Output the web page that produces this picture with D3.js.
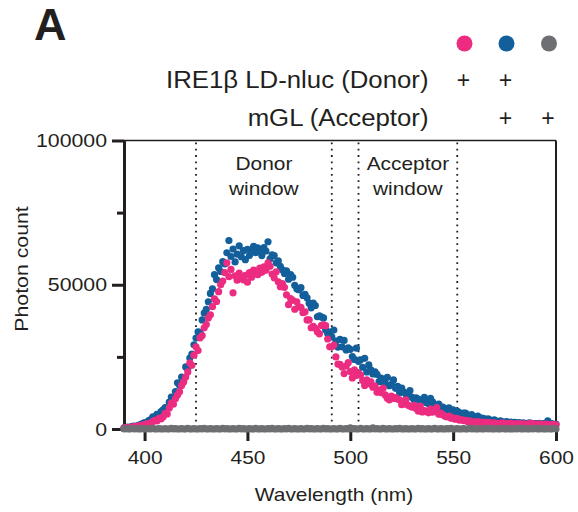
<!DOCTYPE html>
<html>
<head>
<meta charset="utf-8">
<script src="https://cdn.jsdelivr.net/npm/d3@7/dist/d3.min.js"></script>
<style>
  html, body { margin: 0; padding: 0; background: #fff; }
  svg { display: block; font-family: "Liberation Sans", Arial, Helvetica, sans-serif; }
</style>
</head>
<body>
<svg id="chart" width="578" height="512"></svg>
<script>
// Emission spectra, 1 nm steps from 390 to 600 nm
const wavelengthStart = 390;
const wavelengthEnd = 600;

// IRE1β LD-nluc + mGL (donor + acceptor)
const donorAcceptor = [
  400, 600, 700, 500, 900, 1000, 800, 1300, 1500, 1900,
  2200, 2000, 2900, 3300, 4200, 4000, 5100, 4800, 6000, 6600,
  7400, 7100, 9300, 11100, 10600, 13000, 16000, 15200, 18000, 17500,
  21500, 20800, 24600, 26000, 29200, 31500, 33700, 33500, 37800, 40200,
  41500, 44100, 47000, 48600, 53500, 51800, 55900, 54600, 58000, 57200,
  61100, 65300, 59800, 62400, 57900, 60600, 63500, 59700, 61800, 58700,
  62300, 60200, 62100, 63300, 61100, 62800, 61500, 60100, 62900, 61700,
  64900, 59000, 60400, 60100, 57600, 58300, 56400, 55200, 53900, 54800,
  51900, 53500, 52600, 49800, 48600, 48300, 49000, 46300, 46700, 45500,
  43600, 42000, 43600, 42800, 38900, 39200, 38800, 38500, 34400, 33100,
  33600, 31900, 34300, 30500, 28400, 31100, 28500, 30700, 27400, 28100,
  27600, 25100, 24100, 28000, 23500, 24000, 21400, 24500, 19800, 22200,
  20500, 19100, 19800, 18900, 16400, 17600, 16400, 15800, 17900, 15000,
  15500, 17000, 14100, 14800, 12600, 14200, 12800, 12100, 11700, 13300,
  11000, 10100, 10800, 10400, 9600, 10100, 11000, 9100, 8800, 10600,
  9400, 8300, 8000, 8600, 7300, 7600, 7000, 6800, 7300, 6300,
  6600, 5900, 6200, 5700, 5200, 5500, 5500, 4900, 4600, 5000,
  4300, 4100, 4500, 3800, 3800, 3600, 3300, 3500, 3100, 2900,
  3200, 2700, 2400, 2800, 2500, 2300, 2600, 2200, 2400, 2100,
  2300, 2000, 2200, 1900, 2100, 2000, 1800, 2100, 2000, 1700,
  1900, 1800, 2000, 1600, 1900, 1800, 2800, 1700, 1900, 1500,
  1700
];

// IRE1β LD-nluc alone (donor only)
const donorOnly = [
  300, 500, 400, 600, 700, 800, 900, 1000, 1200, 1100,
  1600, 1800, 1700, 2100, 2600, 3000, 2800, 3700, 3500, 4200,
  5400, 5200, 7300, 9000, 8600, 10500, 11800, 12900, 15100, 16300,
  18000, 19800, 22900, 22100, 25600, 28500, 27200, 31600, 32400, 35100,
  36200, 38500, 39600, 42400, 45100, 44200, 47600, 50000, 51300, 54200,
  57600, 52800, 55300, 47200, 53100, 51600, 54000, 52200, 51700, 53300,
  50900, 54200, 52600, 55100, 53900, 53500, 55800, 54300, 56200, 55000,
  57600, 56400, 53700, 52400, 54500, 51000, 49300, 50400, 49100, 46500,
  43100, 45200, 44600, 41500, 44100, 42300, 42200, 40300, 40600, 37800,
  37800, 35100, 35600, 34900, 33700, 33000, 35900, 36100, 35800, 31200,
  28500, 28500, 29100, 25000, 22500, 22400, 21500, 19200, 21800, 23000,
  19900, 17700, 20500, 18600, 19400, 18700, 16800, 15100, 17000, 15700,
  16300, 14500, 14900, 12700, 13500, 12600, 14200, 11800, 10700, 10100,
  11400, 10600, 10900, 10400, 10100, 8400, 8700, 10100, 8300, 7900,
  7600, 8200, 7100, 6200, 7900, 5900, 6400, 6100, 5600, 6900,
  5800, 6200, 7400, 5100, 5500, 4900, 4400, 4200, 4500, 3700,
  3900, 3400, 3600, 3100, 3300, 2900, 3000, 2600, 2800, 2400,
  2500, 2300, 2600, 2200, 2400, 2100, 2300, 2000, 2200, 1900,
  2100, 2000, 1800, 2000, 2100, 1700, 1900, 1800, 2000, 1600,
  1800, 1700, 1900, 1600, 1800, 1700, 1500, 1900, 2000, 1600,
  1700, 1500, 1800, 1600, 1400, 1700, 1500, 1300, 1600, 1400,
  1400
];

// mGL alone (acceptor only)
const acceptorOnly = [
  0, 100, 0, 0, 200, 0, 100, 0, 0, 100,
  0, 0, 100, 0, 200, 0, 0, 100, 0, 0,
  100, 0, 0, 200, 0, 100, 0, 0, 100, 0,
  0, 200, 0, 0, 100, 0, 0, 100, 0, 200,
  0, 0, 100, 0, 0, 100, 0, 0, 200, 0,
  100, 0, 0, 100, 0, 0, 200, 0, 100, 0,
  0, 100, 0, 0, 200, 0, 0, 100, 0, 0,
  100, 0, 200, 0, 0, 100, 0, 0, 100, 0,
  200, 0, 0, 100, 0, 0, 100, 0, 0, 200,
  0, 100, 0, 0, 100, 0, 0, 200, 0, 100,
  0, 0, 100, 0, 0, 200, 0, 0, 100, 0,
  400, 0, 100, 0, 0, 200, 0, 0, 100, 0,
  0, 400, 0, 100, 0, 0, 200, 0, 0, 100,
  0, 0, 100, 0, 200, 0, 0, 100, 0, 0,
  100, 0, 0, 200, 0, 100, 0, 0, 100, 0,
  0, 200, 0, 0, 100, 0, 0, 100, 0, 200,
  0, 0, 100, 0, 0, 100, 0, 0, 200, 0,
  100, 0, 0, 100, 0, 0, 200, 0, 100, 0,
  0, 100, 0, 0, 200, 0, 0, 100, 0, 0,
  100, 0, 200, 0, 0, 100, 0, 0, 100, 0,
  200, 0, 0, 100, 0, 0, 100, 0, 0, 200,
  0
];

const xTicks = [400, 450, 500, 550, 600];
const yMajorTicks = [0, 50000, 100000];
const yMinorTicks = [25000, 75000];
// Integration windows (nm)
const windowEdges = [425, 491, 504, 552];
const windowLabels = [
  { lines: ["Donor", "window"], from: 425, to: 491 },
  { lines: ["Acceptor", "window"], from: 504, to: 552 }
];

const seriesColors = { donorAcceptor: "#135f9b", donorOnly: "#ec2c80", acceptorOnly: "#6e6f72" };
const ink = "#231f20";
const fontFamily = '"Liberation Sans", Arial, Helvetica, sans-serif';

const wavelengths = d3.range(wavelengthStart, wavelengthEnd + 1);

const svg = d3.select("#chart");
const plot = { left: 124, right: 556, top: 140.5, bottom: 429 };

const x = d3.scaleLinear().domain([390, 600]).range([plot.left, plot.right]);
const y = d3.scaleLinear().domain([0, 100000]).range([plot.bottom, plot.top]);

// widen glyphs slightly, matching the wide Helvetica-style lettering
function widen(sel, k) {
  sel.each(function () {
    const w = this.getComputedTextLength();
    d3.select(this).attr("textLength", w * k).attr("lengthAdjust", "spacingAndGlyphs");
  });
}

// Frame: top and right edges
svg.append("line")
  .attr("x1", plot.left).attr("x2", plot.right)
  .attr("y1", plot.top).attr("y2", plot.top)
  .attr("stroke", ink).attr("stroke-width", 1.5);
svg.append("line")
  .attr("x1", plot.right).attr("x2", plot.right)
  .attr("y1", plot.top).attr("y2", plot.bottom)
  .attr("stroke", ink).attr("stroke-width", 2);

// Dotted window boundaries
svg.append("g").selectAll("line")
  .data(windowEdges)
  .join("line")
  .attr("x1", d => x(d)).attr("x2", d => x(d))
  .attr("y1", plot.top + 2).attr("y2", plot.bottom)
  .attr("stroke", ink)
  .attr("stroke-width", 1.8)
  .attr("stroke-dasharray", "1.8 4.5");

// Window labels
windowLabels.forEach(wl => {
  const cx = (x(wl.from) + x(wl.to)) / 2;
  wl.lines.forEach((t, i) => {
    svg.append("text")
      .attr("x", cx).attr("y", 170 + i * 25)
      .attr("text-anchor", "middle")
      .attr("font-size", 19)
      .attr("fill", ink)
      .text(t)
      .call(widen, 1.1);
  });
});

// Axes
const xAxis = svg.append("g")
  .attr("transform", `translate(0,${plot.bottom})`)
  .call(d3.axisBottom(x).tickValues(xTicks).tickSize(12).tickSizeOuter(0).tickPadding(10).tickFormat(d3.format("d")));
xAxis.select(".domain").attr("stroke", ink).attr("stroke-width", 2.5);
xAxis.selectAll(".tick line").attr("stroke", ink).attr("stroke-width", 3);
xAxis.selectAll(".tick text").attr("font-size", 19).attr("font-family", fontFamily).attr("fill", ink).call(widen, 1.1);

const yAxis = svg.append("g")
  .attr("transform", `translate(${plot.left},0)`)
  .call(d3.axisLeft(y).tickValues(yMajorTicks).tickSize(12).tickSizeOuter(0).tickPadding(5).tickFormat(d3.format("d")));
yAxis.select(".domain").attr("stroke", ink).attr("stroke-width", 3);
yAxis.selectAll(".tick line").attr("stroke", ink).attr("stroke-width", 3);
yAxis.selectAll(".tick text").attr("font-size", 19).attr("font-family", fontFamily).attr("fill", ink).call(widen, 1.12);

const yMinor = svg.append("g")
  .attr("transform", `translate(${plot.left},0)`)
  .call(d3.axisLeft(y).tickValues(yMinorTicks).tickSize(7).tickSizeOuter(0).tickFormat(""));
yMinor.select(".domain").remove();
yMinor.selectAll(".tick line").attr("stroke", ink).attr("stroke-width", 3);

// Axis titles
svg.append("text")
  .attr("transform", `translate(28,269) rotate(-90)`)
  .attr("text-anchor", "middle")
  .attr("font-size", 19)
  .attr("fill", ink)
  .text("Photon count")
  .call(widen, 1.12);

svg.append("text")
  .attr("x", 334).attr("y", 501)
  .attr("text-anchor", "middle")
  .attr("font-size", 19)
  .attr("fill", ink)
  .text("Wavelength (nm)")
  .call(widen, 1.1);

// Spectra as dots
const series = [
  { key: "donorAcceptor", values: donorAcceptor },
  { key: "donorOnly", values: donorOnly },
  { key: "acceptorOnly", values: acceptorOnly }
];
series.forEach(s => {
  svg.append("g")
    .attr("fill", seriesColors[s.key])
    .selectAll("circle")
    .data(s.values.map((v, i) => ({ wl: wavelengths[i], v })))
    .join("circle")
    .attr("cx", d => x(d.wl))
    .attr("cy", d => y(d.v))
    .attr("r", 3.6);
});

// Panel letter
svg.append("text")
  .attr("x", 34).attr("y", 39.5)
  .attr("font-size", 45)
  .attr("font-weight", "bold")
  .attr("fill", ink)
  .text("A");

// Condition key
const keyCols = [
  { key: "donorOnly", cx: 464.5, donor: true, acceptor: false },
  { key: "donorAcceptor", cx: 506.5, donor: true, acceptor: true },
  { key: "acceptorOnly", cx: 549, donor: false, acceptor: true }
];
svg.append("g").selectAll("circle")
  .data(keyCols)
  .join("circle")
  .attr("cx", d => d.cx).attr("cy", 43.5).attr("r", 8)
  .attr("fill", d => seriesColors[d.key]);

const keyRows = [
  { label: "IRE1β LD-nluc (Donor)", y: 88.3, field: "donor" },
  { label: "mGL (Acceptor)", y: 126, field: "acceptor" }
];
keyRows.forEach(r => {
  svg.append("text")
    .attr("x", 428.5).attr("y", r.y)
    .attr("text-anchor", "end")
    .attr("font-size", 23)
    .attr("fill", ink)
    .text(r.label)
    .call(widen, 1.12);
  keyCols.filter(c => c[r.field]).forEach(c => {
    svg.append("text")
      .attr("x", c.cx - 1).attr("y", r.y)
      .attr("text-anchor", "middle")
      .attr("font-size", 23)
      .attr("fill", ink)
      .text("+");
  });
});
</script>
</body>
</html>
